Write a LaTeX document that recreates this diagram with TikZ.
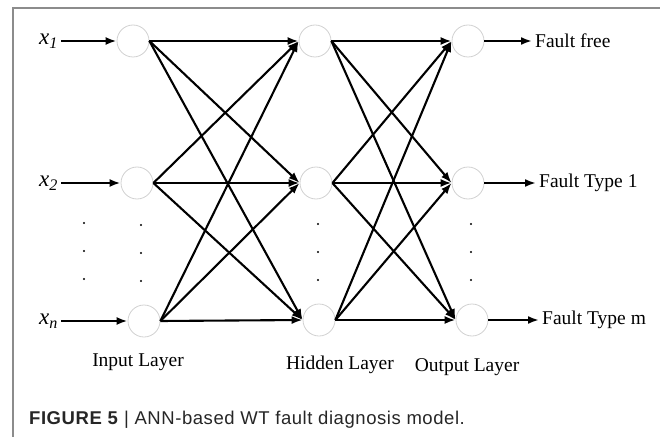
\documentclass[tikz,border=0pt]{standalone}
\usepackage{fontspec}
\setmainfont{Liberation Serif}
\newfontfamily\capfont[LetterSpace=3]{Liberation Sans}
\usetikzlibrary{arrows.meta}
\begin{document}
\begin{tikzpicture}[
x=1pt,y=1pt,
neuron/.style={circle,draw={black!18},line width=0.8pt,minimum size=32pt,inner sep=0pt},
conn/.style={-{Latex[length=11pt,width=8pt]},line width=2.1pt},
layername/.style={font=\fontsize{19.5}{22}\selectfont},
faultname/.style={font=\fontsize{19.5}{22}\selectfont,anchor=west,inner sep=3pt},
inname/.style={font=\fontsize{23}{25}\selectfont\itshape,anchor=east,inner sep=3pt},
figframe/.style={draw={black!45},line width=1.3pt},
dot/.style={fill=black},
]
\useasboundingbox (0,0) rectangle (660,437);
\path[figframe] (660,429) -- (13,429) -- (13,0);
% neurons
\node[neuron] (i1) at (133,396) {};
\node[neuron] (i2) at (137,254) {};
\node[neuron] (in) at (144,116) {};
\node[neuron] (h1) at (315,396) {};
\node[neuron] (h2) at (316,254) {};
\node[neuron] (hn) at (319,117) {};
\node[neuron] (o1) at (468,396) {};
\node[neuron] (o2) at (468,254) {};
\node[neuron] (on) at (472,117) {};
% inputs and outputs
\node[inname] (x1) at (61,396) {x\textsubscript{1}};
\node[inname] (x2) at (61,254) {x\textsubscript{2}};
\node[inname] (xn) at (61,116) {x\textsubscript{n}};
\node[faultname] (f1) at (532,396) {Fault free};
\node[faultname] (f2) at (536,254) {Fault Type 1};
\node[faultname] (fm) at (539,117) {Fault Type m};
\draw[conn] (x1.east) -- (i1.west);
\draw[conn] (x2.east) -- (i2.west);
\draw[conn] (xn.east) -- (in.west);
\draw[conn] (o1.east) -- (f1.west);
\draw[conn] (o2.east) -- (f2.west);
\draw[conn] (on.east) -- (fm.west);
% weights
\path (i1.east) edge[conn] (h1.west) edge[conn] (h2.west) edge[conn] (hn.west);
\path (i2.east) edge[conn] (h1.west) edge[conn] (h2.west) edge[conn] (hn.west);
\path (in.east) edge[conn] (h1.west) edge[conn] (h2.west) edge[conn] (hn.west);
\path (h1.east) edge[conn] (o1.west) edge[conn] (o2.west) edge[conn] (on.west);
\path (h2.east) edge[conn] (o1.west) edge[conn] (o2.west) edge[conn] (on.west);
\path (hn.east) edge[conn] (o1.west) edge[conn] (o2.west) edge[conn] (on.west);
% dots
\path[dot]
    (84,214) circle (1.2) (84,186) circle (1.2) (84,158) circle (1.2)
    (141,212) circle (1.2) (141,184) circle (1.2) (141,156) circle (1.2)
    (318,213) circle (1.2) (318,185) circle (1.2) (318,157) circle (1.2)
    (471,213) circle (1.2) (471,185) circle (1.2) (471,157) circle (1.2);
% layer names
\node[layername] (li) at (138,75) {Input Layer};
\node[layername] (lh) at (340,72) {Hidden Layer};
\node[layername] (lo) at (467,70) {Output Layer};
\node[anchor=west,inner sep=0pt,text=black!85,font=\capfont\fontsize{18.5}{20}\selectfont] (cap) at (29,17)
    {\textbf{FIGURE 5} | ANN-based WT fault diagnosis model.};
\end{tikzpicture}
\end{document}
